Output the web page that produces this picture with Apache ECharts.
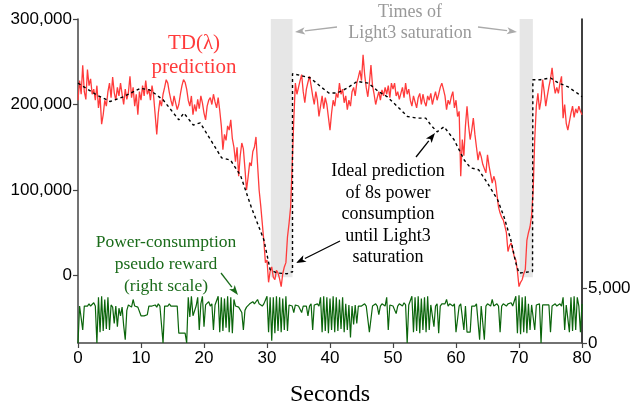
<!DOCTYPE html>
<html>
<head>
<meta charset="utf-8">
<script src="https://cdn.jsdelivr.net/npm/echarts@6/dist/echarts.min.js"></script>
<style>
  html, body { margin: 0; padding: 0; background: #fff; }
  #chart { width: 634px; height: 408px; }
</style>
</head>
<body>
<div id="chart"></div>
<script>
// TD(lambda) prediction, thousands, sampled every 0.25 s from 0 to 80 s
const tdStep = 0.25;
const tdValues = [
  205, 228, 212, 246,  215, 206, 241, 222,  230, 212, 218, 205,  222, 196, 210, 177,
  188, 205, 198, 215,  225, 208, 232, 214,  205, 220, 210, 225,  212, 200, 218, 206,
  214, 233, 208, 220,  198, 212, 188, 215,  205, 222, 210, 228,  212, 218, 205, 222,
  210, 188, 165, 190,  205, 198, 212, 220,  229, 225, 214, 205,  198, 210, 202, 194,
  200, 212, 222, 229,  226, 218, 205, 198,  210, 188, 200, 192,  206, 195, 210, 202,
  190, 182, 198, 205,  208, 200, 212, 203,  196, 208, 193, 175,  147, 165, 158, 175,
  170, 182, 160, 150,  133, 150, 116, 140,  155, 148, 125, 100,  115, 132, 128, 145,
  150, 162, 130, 100,  82, 61, 40, 15,      18, -8, 5, 10,       -2, -5, 6, 3,
  -4, -13, 2, 10,      15, 45, 61, 80,      130, 182, 225, 212,  220, 228, 235, 215,
  202, 218, 226, 233,  222, 210, 200, 215,  205, 186, 198, 210,  195, 208, 200, 185,
  170, 190, 205, 198,  213, 208, 225, 212,  218, 202, 210, 194,  205, 198, 215, 220,
  210, 225, 232, 240,  228, 258, 235, 220,  209, 225, 246, 222,  212, 200, 208, 215,
  205, 217, 210, 220,  212, 222, 208, 225,  218, 225, 210, 215,  206, 213, 220, 208,
  225, 212, 218, 205,  198, 210, 203, 196,  208, 213, 200, 212,  203, 198, 210, 205,
  213, 200, 208, 215,  205, 212, 220, 225,  218, 210, 194, 205,  200, 209, 215, 196,
  205, 186, 192, 116,  159, 140, 175, 198,  175, 159, 170, 184,  165, 150, 135, 145,
  139, 130, 125, 120,  141, 128, 118, 108,  116, 110, 95, 80,    73, 68, 65, 58,
  50, 28, 35, 38,      30, 22, 18, 5,       -13, -8, -5, 2,      7, 41, 50, 57,
  70, 100, 160, 198,   213, 194, 205, 229,  215, 198, 210, 221,  230, 243, 225, 213,
  220, 213, 225, 233,  184, 200, 178, 170,  180, 190, 198, 185,  195, 190, 198, 192,
  188
];

// ideal prediction of 8s power consumption (seconds, thousands)
const idealTimes = [
  0, 3, 5.1, 7.2, 9.9, 11.4, 13.5, 16, 16.8, 18.3, 19.4, 22.8, 24.2, 25.8, 27.5, 29.5,
  30.5, 31.6, 33.2, 33.7, 34.05, 34.05, 35.3, 36.9, 38.5, 39.8, 41.1, 42.7, 44.3, 46.1,
  47.7, 49.1, 50.7, 52.3, 53.8, 55.2, 56, 57, 58.1, 59.7, 61.3, 62.3, 63.6, 65, 66.6,
  67.6, 68.7, 69.5, 70, 72.15, 72.2, 73.4, 75, 76.3, 77.7, 79.3, 80
];
const idealValues = [
  225, 211, 203.5, 209, 219, 217, 205.5, 182, 190, 176, 178.5, 137.6, 135, 117, 80, 41.7,
  6.7, 3, 2, 4, 4, 236, 234, 231, 221, 213.5, 213.5, 219, 227, 225,
  215, 209, 197.6, 186, 184, 184, 176, 168, 174, 158.7, 135, 126, 123.6, 108, 88.5,
  69, 41.7, 14.5, 2.8, 4.7, 229, 229, 231, 225, 221, 213, 209
];

// power-consumption pseudo reward (right scale), sampled every 0.25 s
const rewardStep = 0.25;
const rewardValues = [
  0, 3400, 3300, 1200,  3400, 3500, 3400, 3600,  3400, 3500, 3700, 3400,  0, 4200, 1000, 4300,
  1100, 4000, 1300, 4200,  1200, 3500, 3300, 1800,  3400, 1500, 3200, 2500,  3300, 1600, 300, 3000,
  3500, 3400, 3300, 4000,  3400, 3500, 3300, 3400,  2500, 2400, 2500, 2400,  2600, 3400, 3500, 3400,
  3400, 3500, 3300, 3600,  3400, 3500, 0, 3400,  3500, 3400, 3600, 3400,  3500, 3400, 3300, 3400,
  900, 1000, 900, 1000,  900, 0, 4200, 2400,  4300, 2500, 2500, 3400,  4200, 1200, 3600, 4300,
  1500, 3500, 3400, 3800,  3400, 3600, 1200, 3500,  3400, 4300, 1000, 4200,  1100, 4100, 1400, 4300,
  1000, 4200, 900, 4000,  3400, 3500, 3300, 3400,  2800, 1200, 3000, 3300,  3400, 3600, 3500, 3800,
  3600, 3500, 4000, 3600,  3500, 3400, 3600, 3500,  4300, 1000, 4200, 200,  4200, 900, 4300, 1100,
  4200, 1000, 4100, 1200,  4300, 1100, 3500, 3600,  3400, 2800, 3500, 3600,  3400, 3500, 2800, 3400,
  3500, 3400, 2500, 3400,  3600, 1200, 3500, 3400,  3600, 3400, 4200, 1000,  4300, 1100, 4200, 900,
  4100, 1200, 4300, 1000,  4200, 1100, 4000, 1300,  4200, 1000, 3600, 1200,  3500, 500, 3400, 1700,
  3500, 1800, 3400, 3300,  3400, 3500, 3600, 3400,  3500, 1000, 1000, 3400,  3500, 3600, 3400, 2600,
  3400, 3600, 3500, 3400,  4200, 1200, 3500, 3600,  3400, 3500, 2700, 3400,  3600, 3500, 3400, 3700,
  3500, 0, 3500, 3400,  4300, 1000, 4200, 1100,  4300, 900, 4100, 1200,  4200, 1000, 4300, 1200,
  3500, 3400, 1500, 3400,  3600, 900, 3400, 3600,  3500, 3600, 4000, 3400,  3600, 3500, 3400, 3600,
  1000, 1000, 3400, 3600,  3500, 1200, 3400, 1000,  1000, 1000, 3400, 3500,  3400, 3600, 3500, 300,
  3400, 3500, 300, 3400,  3600, 3500, 3400, 4000,  3400, 3500, 3600, 3400,  1000, 3400, 3600, 3500,
  3400, 3600, 3500, 3700,  3400, 3500, 4300, 900,  4400, 800, 4200, 1000,  4300, 900, 3600, 1200,
  3500, 3400, 1200, 3500,  3400, 3600, 0, 3500,  3400, 3500, 3600, 3500,  1000, 3400, 3500, 3600,
  3400, 3500, 3600, 3400,  4200, 1200, 3500, 3600,  1000, 4200, 1100, 4300,  1200, 4200, 3400, 1000,
  3600
];

// grey bands: times of Light3 saturation
const saturationBands = [[30.6, 34.05], [70.1, 72.2]];

const leftTicks = [0, 100000, 200000, 300000];
const rightTicks = [0, 5000];

const tdData = tdValues.map((v, i) => [i * tdStep, v * 1000]);
const idealData = idealTimes.map((t, i) => [t, idealValues[i] * 1000]);
const rewardData = rewardValues.map((v, i) => [i * rewardStep, v]);

const serif = "'Liberation Serif', 'DejaVu Serif', serif";
const sans = "'Liberation Sans', Arial, sans-serif";
const fmt = (v) => v.toLocaleString("en-US");

function arrow(x1, y1, x2, y2, color) {
  const a = Math.atan2(y2 - y1, x2 - x1);
  const len = 10, half = 3.6;
  const bx = x2 - len * Math.cos(a), by = y2 - len * Math.sin(a);
  const nx = -Math.sin(a) * half, ny = Math.cos(a) * half;
  return {
    type: "group",
    silent: true,
    children: [
      { type: "line", shape: { x1, y1, x2: bx, y2: by }, style: { stroke: color, lineWidth: 1.3 } },
      {
        type: "polygon",
        shape: { points: [[x2, y2], [bx + nx, by + ny], [bx + len * 0.25 * Math.cos(a), by + len * 0.25 * Math.sin(a)], [bx - nx, by - ny]] },
        style: { fill: color },
      },
    ],
  };
}

function label(x, y, text, color, size, lineHeight) {
  return {
    type: "text",
    x, y,
    silent: true,
    style: {
      text, fill: color, font: `${size}px ${serif}`,
      align: "center", verticalAlign: "top", lineHeight,
    },
  };
}

const chart = echarts.init(document.getElementById("chart"), null, { renderer: "canvas" });

chart.setOption({
  animation: false,
  grid: { left: 78, right: 52, top: 19, bottom: 65, containLabel: false, outerBoundsMode: "none" },
  xAxis: {
    type: "value",
    min: 0,
    max: 80,
    interval: 10,
    name: "Seconds",
    nameLocation: "middle",
    nameGap: 40,
    nameTextStyle: { fontFamily: serif, fontSize: 24, color: "#000" },
    axisLine: { onZero: false, lineStyle: { color: "#444", width: 1.5 } },
    axisTick: { length: 5, lineStyle: { color: "#444", width: 1.2 } },
    axisLabel: { fontFamily: sans, fontSize: 17, color: "#000", margin: 7 },
    splitLine: { show: false },
  },
  yAxis: [
    {
      type: "value",
      min: -79000,
      max: 300000,
      axisLine: { show: true, lineStyle: { color: "#444", width: 1.5 } },
      axisTick: { show: true, length: 5, customValues: leftTicks, lineStyle: { color: "#444", width: 1.2 } },
      axisLabel: { customValues: leftTicks, formatter: fmt, fontFamily: sans, fontSize: 17, color: "#000", margin: 6 },
      splitLine: { show: false },
    },
    {
      type: "value",
      position: "right",
      min: 0,
      max: 29800,
      axisLine: { show: true, lineStyle: { color: "#000", width: 1.5 } },
      axisTick: { show: true, length: 5, customValues: rightTicks, lineStyle: { color: "#444", width: 1.2 } },
      axisLabel: { customValues: rightTicks, formatter: fmt, fontFamily: sans, fontSize: 17, color: "#000", margin: 6 },
      splitLine: { show: false },
    },
  ],
  series: [
    {
      name: "Saturation",
      type: "line",
      data: [],
      z: 1,
      silent: true,
      markArea: {
        silent: true,
        itemStyle: { color: "#e6e6e6" },
        data: saturationBands.map(([a, b]) => [{ xAxis: a, yAxis: -2000 }, { xAxis: b, yAxis: 300000 }]),
      },
    },
    {
      name: "Pseudo reward",
      type: "line",
      yAxisIndex: 1,
      data: rewardData,
      showSymbol: false,
      z: 2,
      lineStyle: { color: "#0b650b", width: 1.2 },
    },
    {
      name: "TD(λ) prediction",
      type: "line",
      data: tdData,
      showSymbol: false,
      z: 3,
      lineStyle: { color: "#ff3b3b", width: 1.3 },
    },
    {
      name: "Ideal prediction",
      type: "line",
      data: idealData,
      showSymbol: false,
      z: 4,
      lineStyle: { color: "#000", width: 1.4, type: [3, 3] },
    },
  ],
  graphic: [
    label(194, 31, "TD(λ)\nprediction", "#ff3b3b", 21, 24),
    label(410, 2, "Times of\nLight3 saturation", "#999", 18, 21),
    arrow(337, 27, 295, 32, "#aaa"),
    arrow(478, 27, 517, 32, "#aaa"),
    label(388, 161, "Ideal prediction\nof 8s power\nconsumption\nuntil Light3\nsaturation", "#000", 18, 21.5),
    arrow(416, 157, 435, 133, "#000"),
    arrow(340, 241, 296, 263, "#000"),
    label(166, 231, "Power-consumption\npseudo reward\n(right scale)", "#1a6b1a", 17.5, 22),
    arrow(221, 273, 238, 295, "#1a6b1a"),
  ],
});
</script>
</body>
</html>
